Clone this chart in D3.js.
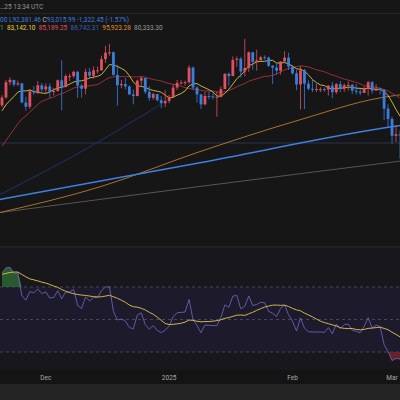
<!DOCTYPE html><html><head><meta charset="utf-8">
<script src="https://cdn.jsdelivr.net/npm/d3@7"></script>
<style>body{margin:0;background:#161616}svg{display:block}</style></head><body>
<svg id="c" width="400" height="400"></svg>
<script>
// warm-up closes (Oct 27 - Nov 19 2024), used only for indicators
const warmCloses=[68000,72000,72300,72300,70200,69500,69400,68800,67800,69400,75600,75900,76500,76700,80400,88700,87900,90500,87300,91000,90600,89800,90500,92300];
const startDate="2024-11-20";
const opens=[92300,94300,98300,98900,97700,98000,93000,91900,95900,95600,97500,96400,97200,95800,96000,98800,97000,99900,99900,101000,97400,96600,101000,100000,101400,101400,104300,106000,106100,100200,97500,97800,97200,95100,94700,98700,99400,95800,94200,95200,93600,92800,93400,94400,96900,98100,98200,98300,102100,96900,95100,92500,94700,94600,94500,94500,96500,100500,99900,104100,104400,101100,102000,106100,103600,104000,104800,104700,102600,102100,101300,103700,104700,102400,100600,97700,101400,97900,96600,96500,96500,96500,96400,97400,95700,97800,96600,97500,97600,96100,95800,95500,96600,98300,96100,96600,96300,91400,88700,84300,84700,84400];
const closes=[94300,98300,98900,97700,98000,93000,91900,95900,95600,97500,96400,97200,95800,96000,98800,97000,99900,99900,101000,97400,96600,101000,100000,101400,101400,104300,106000,106100,100200,97500,97800,97200,95100,94700,98700,99400,95800,94200,95200,93600,92800,93400,94400,96900,98100,98200,98300,102100,96900,95100,92500,94700,94600,94500,94500,96500,100500,99900,104100,104400,101100,102000,106100,103600,104000,104800,104700,102600,102100,101300,103700,104700,102400,100600,97700,101400,97900,96600,96500,96500,96500,96400,97400,95700,97800,96600,97500,97600,96100,95800,95500,96600,98300,96100,96600,96300,91400,88700,84300,84700,84400,86000];
const highs=[94900,98900,99600,98600,98700,98100,94500,96500,97300,98600,98100,98000,98000,96800,99000,104000,100400,100500,101300,101300,97900,101800,102000,102400,102400,105200,107800,108300,106300,102800,98900,99400,97400,96400,99000,99900,99400,97300,95600,95300,94700,96200,95000,97800,98900,98800,98700,102700,102400,97300,95300,95800,95800,95400,95900,97200,100600,100800,105000,105000,104900,109600,106300,106200,106800,105200,105300,105000,102700,103200,103800,106400,106000,102800,101500,102500,101800,98800,99100,97800,97000,96900,97500,98300,98100,98600,98000,98500,97900,97800,96500,97200,98600,98600,97800,96900,96500,92500,89300,87000,85700,86000];
const lows=[91800,94000,97500,97200,97300,92800,90900,91300,95000,95200,95800,95500,94300,94800,95800,91000,97200,98600,99400,94200,94300,95100,99300,99200,100500,101300,103300,105200,100000,92200,96700,96400,95000,92500,94600,97400,95200,93400,93700,93300,91500,91800,92800,94200,96300,97700,97400,97900,96200,93000,91300,92300,93800,93800,89300,94300,96500,97400,99900,102300,99500,99800,101000,101500,101300,104000,104200,102300,97800,100300,100300,103700,101500,100300,96200,91200,91300,96200,95700,95700,95700,95800,94800,94100,95200,95700,95800,96100,95200,95100,94900,95500,94800,95300,96000,95100,88400,86600,82300,82700,78300,83000];
// long moving averages ([position 0-400, price])
const blueMA=[[0,67700],[200,77300],[385,86400],[400,87000]];
const orangeMA=[[0,64300],[100,71000],[200,80200],[300,88500],[380,94200],[400,95000]];
const grayMA=[[0,64300],[200,71100],[400,77700]];
const navyMA=[[0,69000],[80,80000],[160,92400]];
const header=["…25 13:34 UTC"];
const ohlcText=[["00 L",  "#3b7ddd"],["92,381.46 ","#3b7ddd"],["C","#bbb"],["93,015.99","#3b7ddd"],[" -1,322.45 (-1.57%)","#3b7ddd"]];
const maText=[["1 ","#4caf50"],["83,142.10 ","#e3d23f"],["85,189.25 ","#e04f5f"],["86,742.31 ","#3b5cc4"],["95,923.28 ","#e0902f"],["80,333.30","#999"]];
const axisLabels=[["2024-12-01","Dec"],["2025-01-01","2025"],["2025-02-01","Feb"],["2025-03-01","Mar"]];

const svg=d3.select("#c");
const parse=d3.timeParse("%Y-%m-%d");
const t0=parse(startDate);
const dates=closes.map((_,i)=>d3.timeDay.offset(t0,i));
const x=d3.scaleTime().domain([d3.timeHour.offset(t0,-12),d3.timeDay.offset(t0,100)]).range([0,400]);
const y=d3.scaleLinear().domain([78000,108000]).range([160,45]);
const W=2.8;
svg.append("rect").attr("width",400).attr("height",400).attr("fill","#161616");
svg.append("line").attr("x1",0).attr("x2",400).attr("y1",143).attr("y2",143).attr("stroke","#283250").attr("stroke-width",1);
const xf=d3.scaleLinear().domain([0,400]).range([0,400]);
function lineP(arr,col,w){svg.append("path").datum(arr).attr("fill","none").attr("stroke",col).attr("stroke-width",w)
 .attr("d",d3.line().x(d=>xf(d[0])).y(d=>y(d[1])).curve(d3.curveMonotoneX));}
lineP(navyMA,"#22306a",1);
lineP(grayMA,"#6e6558",0.8);
lineP(orangeMA,"#b87a34",0.9);
lineP(blueMA,"#3f7fe0",1.5);
const all=warmCloses.concat(closes);
function sma(n){return closes.map((_,i)=>d3.mean(all.slice(i+warmCloses.length-n+1,i+warmCloses.length+1)));}
const ln=d3.line().x((d,i)=>x(dates[i])).y(d=>y(d));
svg.append("path").attr("d",ln(sma(20))).attr("fill","none").attr("stroke","#a8323b").attr("stroke-width",0.9);
svg.append("path").attr("d",ln(sma(7))).attr("fill","none").attr("stroke","#d9c640").attr("stroke-width",0.9);
const g=svg.append("g");
closes.forEach((c,i)=>{const o=opens[i],up=c>=o,col=up?"#e0505f":"#3b7ddd",xx=x(dates[i]);
 g.append("line").attr("x1",xx).attr("x2",xx).attr("y1",y(highs[i])).attr("y2",y(lows[i])).attr("stroke",col).attr("stroke-width",0.8);
 g.append("rect").attr("x",xx-W/2).attr("width",W).attr("y",y(Math.max(o,c))).attr("height",Math.max(1,Math.abs(y(o)-y(c)))).attr("fill",col);});
const ht=svg.append("g").attr("font-family","Roboto, sans-serif").attr("font-size",6.5);
ht.append("text").attr("x",0).attr("y",9).attr("fill","#999").text(header[0]);
ht.append("line").attr("x1",0).attr("x2",400).attr("y1",13.5).attr("y2",13.5).attr("stroke","#262626");
const t2=ht.append("text").attr("x",0).attr("y",22);ohlcText.forEach(d=>t2.append("tspan").attr("fill",d[1]).text(d[0]));
const t3=ht.append("text").attr("x",0).attr("y",30);maText.forEach(d=>t3.append("tspan").attr("fill",d[1]).attr("xml:space","preserve").text(d[0]+" "));
svg.append("rect").attr("x",0).attr("y",247).attr("width",400).attr("height",123).attr("fill","#18171c");
svg.append("line").attr("x1",0).attr("x2",400).attr("y1",247).attr("y2",247).attr("stroke","#2a2a2a");
const ry=d3.scaleLinear().domain([30,70]).range([352,287]);
svg.append("rect").attr("x",0).attr("y",ry(70)).attr("width",400).attr("height",ry(30)-ry(70)).attr("fill","#1d1a2c");
[70,50,30].forEach(v=>svg.append("line").attr("x1",0).attr("x2",400).attr("y1",ry(v)).attr("y2",ry(v)).attr("stroke","#5a5870").attr("stroke-dasharray","3,3").attr("stroke-width",0.7));
let ag=0,al=0;const rsiAll=[];
for(let i=1;i<all.length;i++){const ch=all[i]-all[i-1],gn=Math.max(ch,0),ls=Math.max(-ch,0);
 if(i<=14){ag+=gn/14;al+=ls/14;}else{ag=(ag*13+gn)/14;al=(al*13+ls)/14;}
 rsiAll.push(al===0?100:100-100/(1+ag/al));}
const rsi=rsiAll.slice(rsiAll.length-closes.length);
const rsiMA=rsi.map((_,i)=>{const k=i+rsiAll.length-closes.length;return d3.mean(rsiAll.slice(k-13,k+1));});
const rl=d3.line().x((d,i)=>x(dates[i])).y(d=>ry(d));
const ob=d3.area().x((d,i)=>x(dates[i])).y0(ry(70)).y1(d=>ry(Math.max(d,70)));
const os=d3.area().x((d,i)=>x(dates[i])).y0(ry(30)).y1(d=>ry(Math.min(d,30)));
svg.append("path").attr("d",ob(rsi)).attr("fill","#2e6b34").attr("opacity",0.8);
svg.append("path").attr("d",os(rsi)).attr("fill","#7a2630").attr("opacity",0.8);
svg.append("path").attr("d",rl(rsi)).attr("fill","none").attr("stroke","#7468c8").attr("stroke-width",0.8);
svg.append("path").attr("d",rl(rsiMA)).attr("fill","none").attr("stroke","#d2b64a").attr("stroke-width",1);
svg.append("rect").attr("x",0).attr("y",370).attr("width",400).attr("height",14).attr("fill","#141414");
svg.append("rect").attr("x",0).attr("y",384).attr("width",400).attr("height",16).attr("fill","#232323");
svg.append("g").selectAll("text").data(axisLabels).join("text").attr("x",d=>Math.min(x(parse(d[0])),392)).attr("y",380)
 .attr("text-anchor","middle").attr("fill","#aaa").attr("font-family","Roboto, sans-serif").attr("font-size",6.5).text(d=>d[1]);
</script></body></html>
